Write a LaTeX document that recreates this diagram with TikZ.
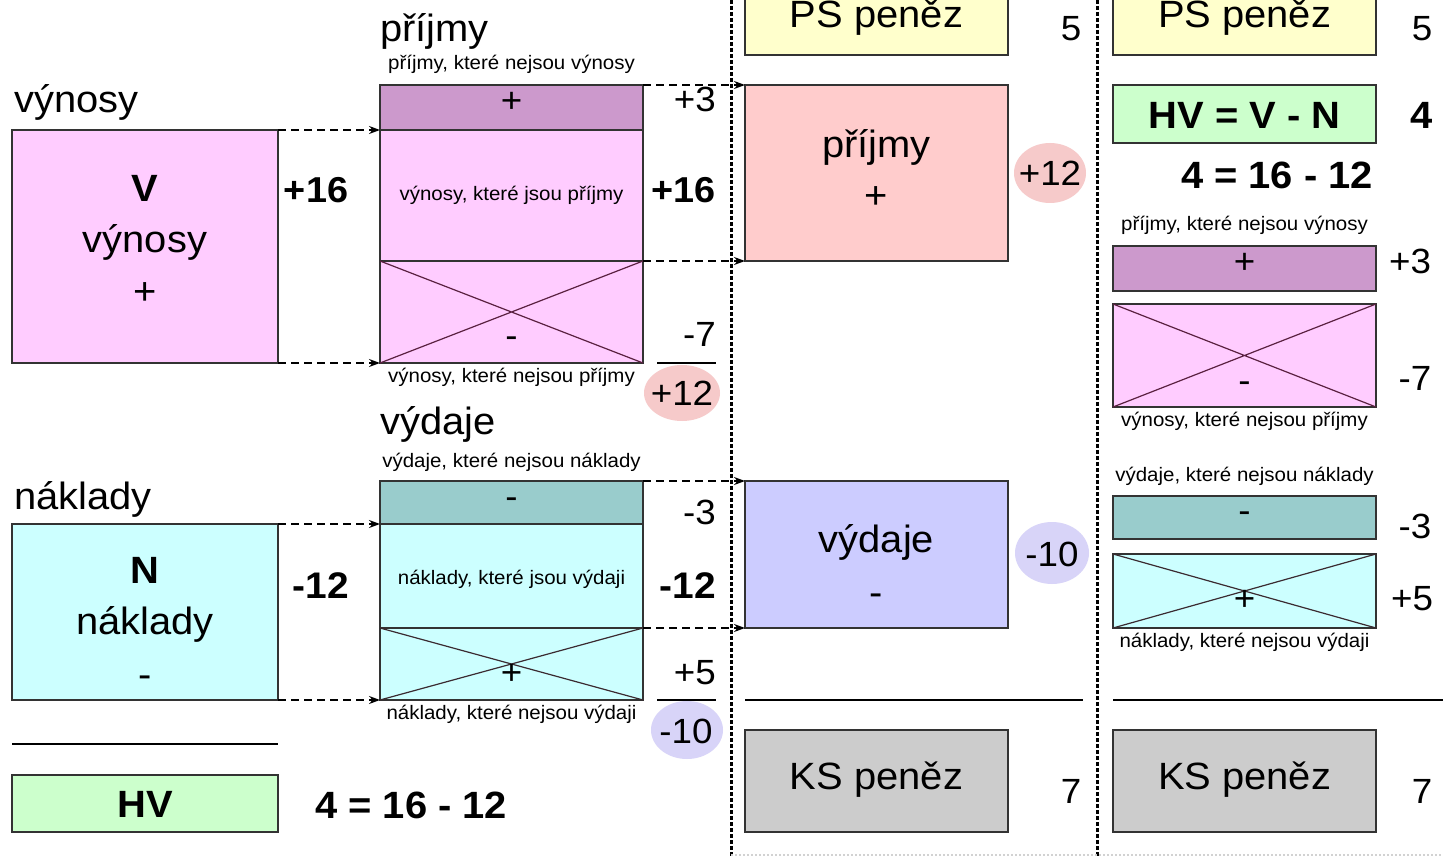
\documentclass[tikz,border=0pt]{standalone}
\usepackage{fontspec}
\setmainfont{Liberation Sans}[FakeStretch=1.05]
\usetikzlibrary{arrows.meta,shapes.geometric}
\definecolor{cV}{HTML}{FFCCFF}
\definecolor{cN}{HTML}{CCFFFF}
\definecolor{cPur}{HTML}{CC99CC}
\definecolor{cTeal}{HTML}{99CCCC}
\definecolor{cGreen}{HTML}{CCFFCC}
\definecolor{cYel}{HTML}{FFFFCC}
\definecolor{cSal}{HTML}{FFCCCC}
\definecolor{cLav}{HTML}{CCCCFF}
\definecolor{cGray}{HTML}{CCCCCC}
\definecolor{ePink}{HTML}{F6CACA}
\definecolor{eLav}{HTML}{D8D4F8}
\definecolor{boxline}{HTML}{333333}
\definecolor{crossP}{HTML}{5A2040}
\definecolor{crossC}{HTML}{3A2A30}
\newcommand\myBig{\fontsize{38}{44}\selectfont}
\newcommand\mySmall{\fontsize{19.5}{23}\selectfont}
\newcommand\myNum{\fontsize{35}{40}\selectfont}
\newcommand\myBold{\fontsize{37}{42}\selectfont\bfseries}
\newcommand\myEq{\fontsize{38}{42}\selectfont\bfseries}
\newcommand\myLetter{\fontsize{38}{42}\selectfont\bfseries}
\newcommand\mySign{\fontsize{35}{40}\selectfont}
\begin{document}
\begin{tikzpicture}[x=1pt,y=-1pt,
  box/.style={draw=boxline, line width=1.4pt, inner sep=0pt, outer sep=0pt, anchor=north west, minimum width=263pt},
  txt/.style={inner sep=0pt, anchor=base, text=black},
  dasharrow/.style={draw=black, dash pattern=on 8pt off 5pt, line width=1.4pt, -{Stealth[length=11pt,width=8pt]}},
  divider/.style={draw=black, line width=3pt, dash pattern=on 4pt off 2pt},
  crossline/.style={line width=1.2pt},
  sumline/.style={draw=black, line width=1.2pt},
  blob/.style={ellipse, inner sep=0pt, draw=none}
]
\useasboundingbox (0,0) rectangle (1443,858);
\clip (0,0) rectangle (1443,858);
\fill[white] (0,0) rectangle (1443,858);

% ---------- column 1 ----------
\node[box, fill=cV, minimum width=266pt, minimum height=233pt] (V) at (12,130) {};
\node[box, fill=cN, minimum width=266pt, minimum height=176pt] (N) at (12,524) {};
\node[box, fill=cGreen, minimum width=266pt, minimum height=57pt] (HV) at (12,775) {};
\draw[sumline] (12,744) -- (278,744);

\node[txt, anchor=base west, font=\myBig] (lV) at (14,113) {výnosy};
\node[txt, font=\myLetter] (tV) at (145,202) {V};
\node[txt, font=\myBig] (tV2) at (145,253) {výnosy};
\node[txt, font=\myBig] (tV3) at (145,305) {+};
\node[txt, font=\fontsize{36}{40}\selectfont\bfseries] (nV) at (316,203) {+16};

\node[txt, anchor=base west, font=\myBig] (lN) at (14,509) {náklady};
\node[txt, font=\myLetter] (tN) at (145,583) {N};
\node[txt, font=\myBig] (tN2) at (145,634) {náklady};
\node[txt, font=\myBig] (tN3) at (145,687) {-};
\node[txt, font=\myBold] (nN) at (321,598) {-12};

\node[txt, font=\myEq] (tHV) at (145,817) {HV};
\node[txt, anchor=base west, font=\myEq] (eqL) at (315,818) {4 = 16 - 12};

% ---------- column 2 ----------
\node[box, fill=cPur, minimum height=45pt] (PV) at (380,85) {};
\node[box, fill=cV, minimum height=131pt] (VP) at (380,130) {};
\node[box, fill=cV, minimum height=102pt] (VX) at (380,261) {};
\draw[crossline, draw=crossP] (VX.north west) -- (VX.south east) (VX.south west) -- (VX.north east);

\node[box, fill=cTeal, minimum height=43pt] (TN) at (380,481) {};
\node[box, fill=cN, minimum height=104pt] (NV) at (380,524) {};
\node[box, fill=cN, minimum height=72pt] (NX) at (380,628) {};
\draw[crossline, draw=crossC] (NX.north west) -- (NX.south east) (NX.south west) -- (NX.north east);

\node[txt, anchor=base west, font=\myBig] (lP) at (380,42) {příjmy};
\node[txt, font=\mySmall] (sPV) at (511.5,70) {příjmy, které nejsou výnosy};
\node[txt, font=\mySign] (gPV) at (511.5,113) {+};
\node[txt, font=\mySmall] (sVP) at (511.5,201) {výnosy, které jsou příjmy};
\node[txt, font=\mySign] (gVX) at (511.5,348) {-};
\node[txt, font=\mySmall] (sVX) at (511.5,383) {výnosy, které nejsou příjmy};

\node[txt, anchor=base east, font=\myNum] (n3) at (716,112) {+3};
\node[txt, anchor=base east, font=\fontsize{36}{40}\selectfont\bfseries] (n16) at (716,203) {+16};
\node[txt, anchor=base east, font=\myNum] (n7) at (716,347) {-7};
\draw[sumline] (657,363) -- (716,363);
\node[blob, fill=ePink, minimum width=76pt, minimum height=56pt] (b12) at (682,393) {};
\node[txt, font=\myNum] (n12) at (682,406) {+12};

\node[txt, anchor=base west, font=\myBig] (lD) at (380,434) {výdaje};
\node[txt, font=\mySmall] (sTN) at (511.5,467) {výdaje, které nejsou náklady};
\node[txt, font=\mySign] (gTN) at (511.5,508) {-};
\node[txt, font=\mySmall] (sNV) at (511.5,584) {náklady, které jsou výdaji};
\node[txt, font=\mySign] (gNX) at (511.5,684) {+};
\node[txt, font=\mySmall] (sNX) at (511.5,719) {náklady, které nejsou výdaji};

\node[txt, anchor=base east, font=\myNum] (nm3) at (716,524) {-3};
\node[txt, anchor=base east, font=\myBold] (nm12) at (716,598) {-12};
\node[txt, anchor=base east, font=\myNum] (np5) at (716,684) {+5};
\draw[sumline] (657,700) -- (716,700);
\node[blob, fill=eLav, minimum width=72pt, minimum height=58pt] (b10) at (687,730) {};
\node[txt, font=\myNum] (nm10) at (686,743) {-10};

% ---------- column 3 ----------
\node[box, fill=cYel, minimum height=75pt] (PS3) at (745,-20) {};
\node[box, fill=cSal, minimum height=176pt] (PR) at (745,85) {};
\node[box, fill=cLav, minimum height=147pt] (VD) at (745,481) {};
\node[box, fill=cGray, minimum height=102pt] (KS3) at (745,730) {};
\draw[sumline] (745,700) -- (1083,700);

\node[txt, font=\myBig] (tPS3) at (876.5,28) {PS peněz};
\node[txt, font=\myNum] (n5a) at (1071,41) {5};
\node[txt, font=\myBig] (tPR) at (876.5,158) {příjmy};
\node[txt, font=\myBig] (tPR2) at (876.5,209) {+};
\node[blob, fill=ePink, minimum width=72pt, minimum height=60pt] (b12b) at (1050,173) {};
\node[txt, font=\myNum] (n12b) at (1050,186) {+12};
\node[txt, font=\myBig] (tVD) at (876.5,552) {výdaje};
\node[txt, font=\myBig] (tVD2) at (876.5,605) {-};
\node[blob, fill=eLav, minimum width=74pt, minimum height=62pt] (b10b) at (1052,553) {};
\node[txt, font=\myNum] (n10b) at (1052,566) {-10};
\node[txt, font=\myBig] (tKS3) at (876.5,789) {KS peněz};
\node[txt, font=\myNum] (n7a) at (1071,803) {7};

% ---------- column 4 ----------
\node[box, fill=cYel, minimum height=75pt] (PS4) at (1113,-20) {};
\node[box, fill=cGreen, minimum height=58pt] (HVN) at (1113,85) {};
\node[box, fill=cPur, minimum height=45pt] (PV4) at (1113,246) {};
\node[box, fill=cV, minimum height=103pt] (VX4) at (1113,304) {};
\draw[crossline, draw=crossP] (VX4.north west) -- (VX4.south east) (VX4.south west) -- (VX4.north east);
\node[box, fill=cTeal, minimum height=43pt] (TN4) at (1113,496) {};
\node[box, fill=cN, minimum height=74pt] (NX4) at (1113,554) {};
\draw[crossline, draw=crossC] (NX4.north west) -- (NX4.south east) (NX4.south west) -- (NX4.north east);
\node[box, fill=cGray, minimum height=102pt] (KS4) at (1113,730) {};
\draw[sumline] (1113,700) -- (1443,700);

\node[txt, font=\myBig] (tPS4) at (1244.5,28) {PS peněz};
\node[txt, font=\myNum] (n5b) at (1422,41) {5};
\node[txt, font=\myEq] (tHVN) at (1244.5,129) {HV = V - N};
\node[txt, font=\myEq] (n4) at (1422,129) {4};
\node[txt, font=\myEq] (eqR) at (1277,189) {4 = 16 - 12};
\node[txt, font=\mySmall] (sPV4) at (1244.5,231) {příjmy, které nejsou výnosy};
\node[txt, font=\mySign] (gPV4) at (1244.5,274) {+};
\node[txt, font=\myNum] (n3b) at (1410,274) {+3};
\node[txt, font=\mySign] (gVX4) at (1244.5,392) {-};
\node[txt, font=\myNum] (n7b) at (1415,391) {-7};
\node[txt, font=\mySmall] (sVX4) at (1244.5,427) {výnosy, které nejsou příjmy};
\node[txt, font=\mySmall] (sTN4) at (1244.5,481) {výdaje, které nejsou náklady};
\node[txt, font=\mySign] (gTN4) at (1244.5,522) {-};
\node[txt, font=\myNum] (nm3b) at (1415,538) {-3};
\node[txt, font=\mySign] (gNX4) at (1244.5,610) {+};
\node[txt, font=\myNum] (np5b) at (1412,610) {+5};
\node[txt, font=\mySmall] (sNX4) at (1244.5,647) {náklady, které nejsou výdaji};
\node[txt, font=\myBig] (tKS4) at (1244.5,789) {KS peněz};
\node[txt, font=\myNum] (n7c) at (1422,803) {7};

% ---------- dividers ----------
\draw[divider] (731,0) -- (731,858);
\draw[divider] (1097,0) -- (1097,858);
\draw[draw=gray!35, line width=1.5pt, dash pattern=on 2pt off 2pt] (731,855) -- (1443,855);

% ---------- connectors ----------
\draw[dasharrow] (V.north east) -- (VP.north west);
\draw[dasharrow] (V.south east) -- (VX.south west);
\draw[dasharrow] (N.north east) -- (NV.north west);
\draw[dasharrow] (N.south east) -- (NX.south west);
\draw[dasharrow] (PV.north east) -- (PR.north west);
\draw[dasharrow] (VP.south east) -- (PR.south west);
\draw[dasharrow] (TN.north east) -- (VD.north west);
\draw[dasharrow] (NV.south east) -- (VD.south west);
\end{tikzpicture}
\end{document}
